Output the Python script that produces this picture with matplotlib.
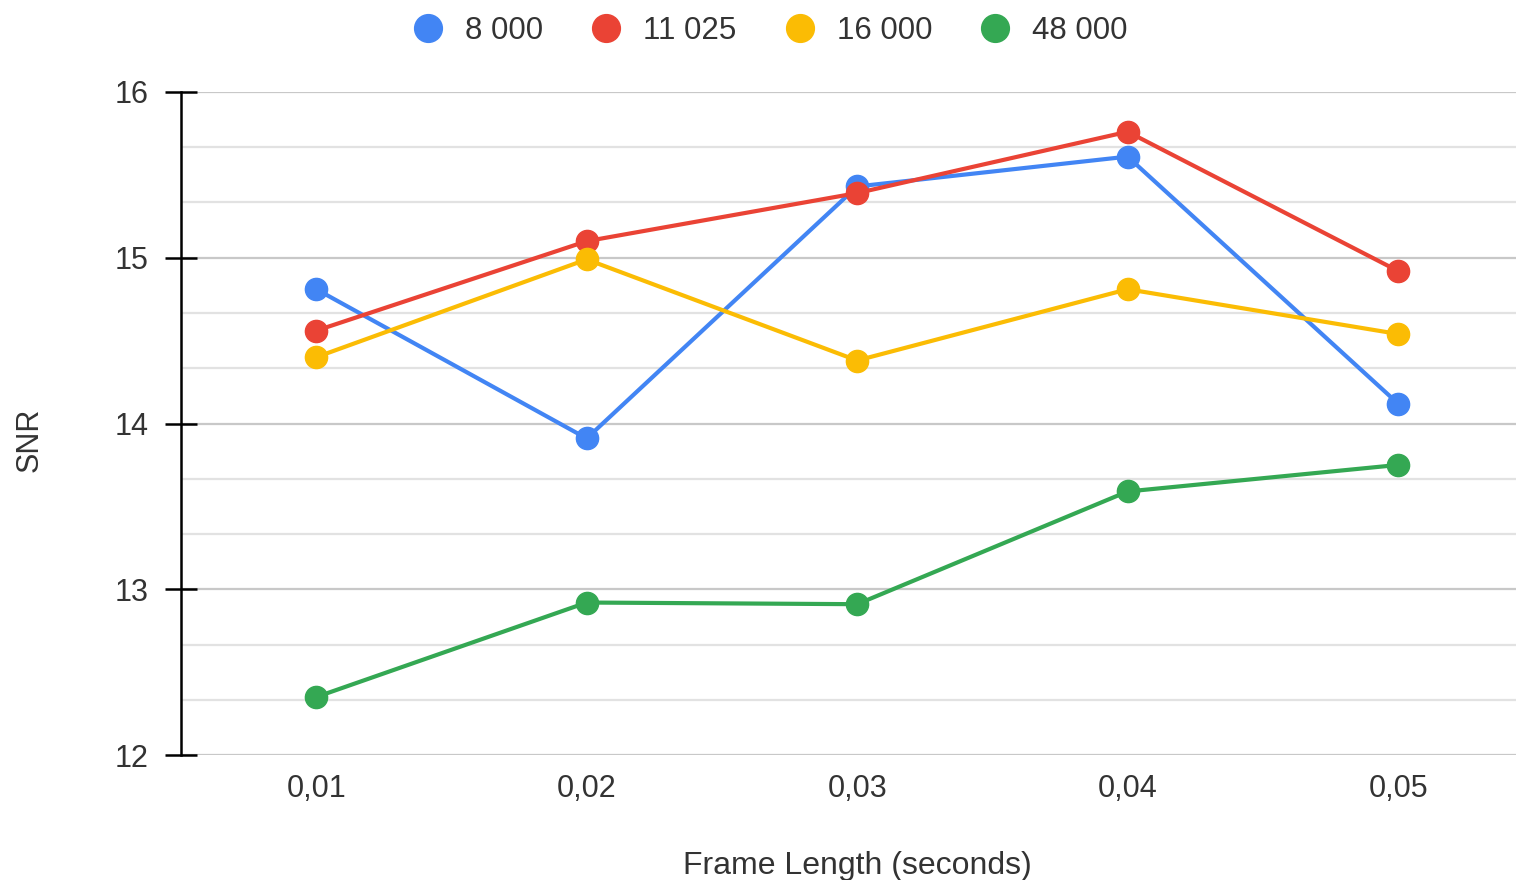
import matplotlib.pyplot as plt
from matplotlib.lines import Line2D
from matplotlib.ticker import MultipleLocator

plt.rcParams['font.family'] = ['Liberation Sans', 'DejaVu Sans']

frame_lengths = ["0,01", "0,02", "0,03", "0,04", "0,05"]
series_names = ["8 000", "11 025", "16 000", "48 000"]
snr_8000 = [14.81, 13.91, 15.43, 15.61, 14.12]
snr_11025 = [14.56, 15.10, 15.39, 15.76, 14.92]
snr_16000 = [14.40, 14.99, 14.38, 14.81, 14.54]
snr_48000 = [12.35, 12.92, 12.91, 13.59, 13.75]
colors = ["#4285f4", "#ea4335", "#fbbc04", "#34a853"]

fig = plt.figure(figsize=(15.16, 8.8), dpi=100)
ax = fig.add_axes([0.1194, 0.142, 0.8806, 0.7535])

x = list(range(len(frame_lengths)))
for vals, name, c in zip([snr_8000, snr_11025, snr_16000, snr_48000], series_names, colors):
    ax.plot(x, vals, color=c, lw=3, marker="o", ms=16, label=name, zorder=3)

ax.set_xlim(-0.5, 4.436)
ax.set_ylim(12, 16)
ax.yaxis.set_major_locator(MultipleLocator(1))
ax.yaxis.set_minor_locator(MultipleLocator(1 / 3))
ax.grid(axis="y", which="major", color="#c8c8c8", lw=1.6)
ax.grid(axis="y", which="minor", color="#e2e2e2", lw=1.6)
ax.set_axisbelow(True)

ax.set_xticks(x)
ax.set_xticklabels(frame_lengths)
ax.tick_params(axis="x", length=0, pad=14, labelsize=22, labelcolor="#333333")
ax.tick_params(axis="y", which="major", direction="inout", length=23, width=1.8,
               pad=12, labelsize=22, labelcolor="#333333")
ax.tick_params(axis="y", which="minor", length=0)

for side in ["top", "right", "bottom"]:
    ax.spines[side].set_visible(False)
ax.spines["left"].set_linewidth(1.8)
ax.spines["left"].set_color("black")

ax.set_xlabel("Frame Length (seconds)", fontsize=23, color="#333333")
ax.xaxis.set_label_coords(0.507, -0.145)
ax.set_ylabel("SNR", fontsize=22, color="#333333")
ax.yaxis.set_label_coords(-0.102, 0.475)

handles = [Line2D([], [], ls="none", marker="o", ms=20, color=c) for c in colors]
fig.legend(handles, series_names, loc="center", bbox_to_anchor=(0.507, 1 - 31 / 880),
           ncol=4, frameon=False, fontsize=22.5, handlelength=1.2, handletextpad=0.58,
           columnspacing=1.42, labelcolor="#333333")

fig.savefig("out.png", dpi=100)
